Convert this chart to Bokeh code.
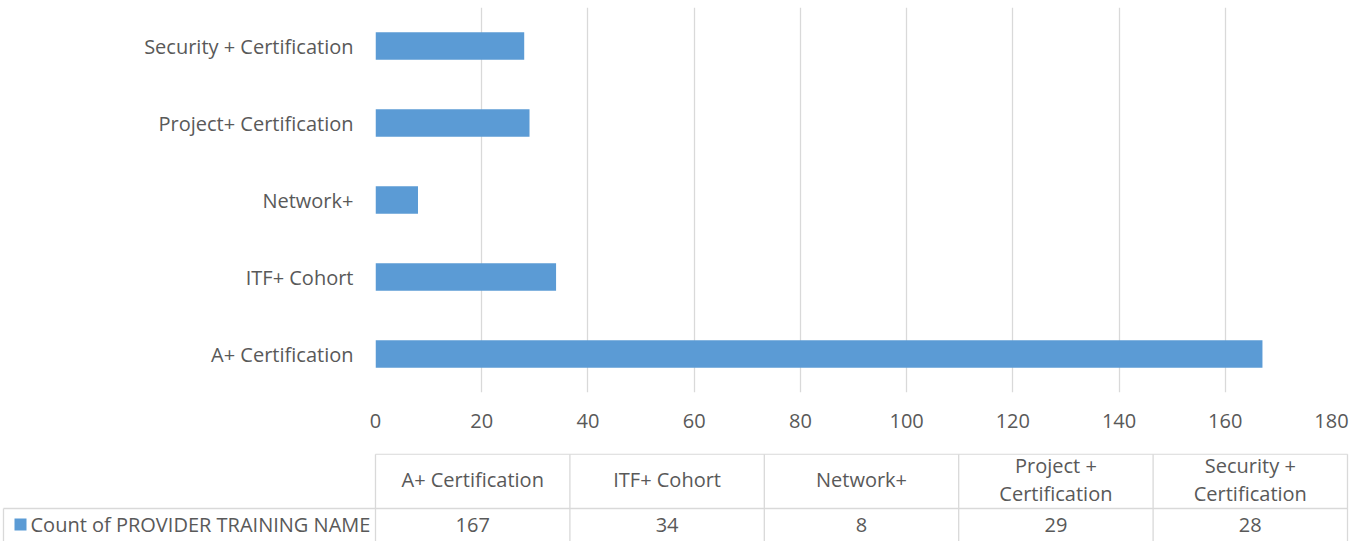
from bokeh.plotting import figure
from bokeh.models import FactorRange, Range1d, FixedTicker
from bokeh.layouts import column
from bokeh.embed import file_html
from bokeh.resources import INLINE
from bokeh.core.properties import value

# ---- data ----
categories = ["A+ Certification", "ITF+ Cohort", "Network+",
              "Project+ Certification", "Security + Certification"]
counts = [167, 34, 8, 29, 28]
table_headers = ["A+ Certification", "ITF+ Cohort", "Network+",
                 "Project +\nCertification", "Security +\nCertification"]
series_name = "Count of PROVIDER TRAINING NAME"
x_ticks = [0, 20, 40, 60, 80, 100, 120, 140, 160, 180]

BAR = "#5B9BD5"
GRID = "#D9D9D9"
TXT = "#595959"
FONT = value("Open Sans")
FS = "20px"

W = 1350
TOP_H = 453
TAB_H = 88
LEFT = 375
RIGHT = 19
FRAME_TOP = 7
FRAME_H = 385

# ---- bar chart ----
p = figure(width=W, height=TOP_H, y_range=FactorRange(*categories),
           x_range=Range1d(0, 180), output_backend="svg",
           toolbar_location=None, min_border_left=LEFT,
           min_border_right=RIGHT, min_border_top=FRAME_TOP,
           min_border_bottom=TOP_H - FRAME_H - FRAME_TOP)
p.hbar(y=categories, right=counts, height=0.36, color=BAR, line_color=None)
p.outline_line_color = None
p.ygrid.grid_line_color = None
p.xgrid.grid_line_color = GRID
p.xgrid.grid_line_width = 1.3
p.xaxis.ticker = FixedTicker(ticks=x_ticks)
for ax in (p.xaxis[0], p.yaxis[0]):
    ax.axis_line_color = None
    ax.major_tick_line_color = None
    ax.minor_tick_line_color = None
    ax.major_label_text_font = "Open Sans"
    ax.major_label_text_font_size = FS
    ax.major_label_text_color = TXT
p.xaxis.major_label_standoff = 15
p.yaxis.major_label_standoff = 16

# ---- data table ----
t = figure(width=W, height=TAB_H, x_range=Range1d(0, W),
           y_range=Range1d(TAB_H, 0), output_backend="svg",
           toolbar_location=None, min_border=0,
           x_axis_type=None, y_axis_type=None)
t.outline_line_color = None
t.grid.visible = False

for fig in (p, t):
    if "frame_align" in fig.properties():
        fig.frame_align = False

n = len(table_headers)
T_RIGHT = 1347
col_w = (T_RIGHT - LEFT) / n
edges = [LEFT + i * col_w for i in range(n + 1)]
centers = [LEFT + (i + 0.5) * col_w for i in range(n)]
T_LEFT = 3
top_y, mid_y, bot_y = 0.7, 55, TAB_H + 2

# horizontal lines
t.segment(x0=[LEFT, T_LEFT], y0=[top_y, mid_y],
          x1=[T_RIGHT] * 2, y1=[top_y, mid_y],
          line_color=GRID, line_width=1.3)
# vertical lines
t.segment(x0=edges, y0=[top_y] * len(edges), x1=edges, y1=[bot_y] * len(edges),
          line_color=GRID, line_width=1.3)
t.segment(x0=[T_LEFT], y0=[mid_y], x1=[T_LEFT], y1=[bot_y],
          line_color=GRID, line_width=1.3)

t.text(x=centers, y=[26] * n, text=table_headers, text_font=FONT,
       text_font_size=FS, text_color=TXT, text_align="center",
       text_baseline="middle", text_line_height=1.04)
t.text(x=centers, y=[71] * n, text=[str(c) for c in counts], text_font=FONT,
       text_font_size=FS, text_color=TXT, text_align="center",
       text_baseline="middle")
# legend key
t.rect(x=[T_LEFT + 17], y=[71], width=12, height=12, color=BAR, line_color=None)
t.text(x=[T_LEFT + 27], y=[71], text=[series_name], text_font=FONT,
       text_font_size=FS, text_color=TXT, text_align="left",
       text_baseline="middle")

layout = column(p, t, spacing=0)
open("out.html", "w").write(file_html(layout, INLINE))
